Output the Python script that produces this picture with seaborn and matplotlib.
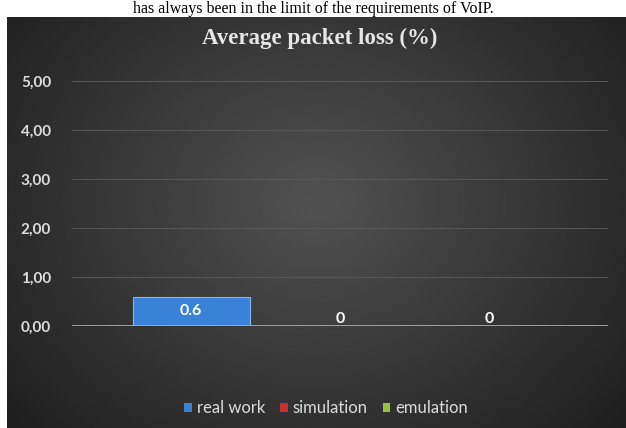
import numpy as np
import pandas as pd
import seaborn as sns
import matplotlib.pyplot as plt
from matplotlib.patches import Patch

# Values
series = ['real work', 'simulation', 'emulation']
loss = [0.6, 0, 0]
yticks = [0, 1, 2, 3, 4, 5]
ylabels = ['0,00', '1,00', '2,00', '3,00', '4,00', '5,00']
colors = ['#3a82d8', '#c9302c', '#9bc13c']

df = pd.DataFrame({'series': series, 'loss': loss})

sns.set_style('dark')
plt.rcParams['font.family'] = ['Lato', 'DejaVu Sans']

W, H = 626, 428
fig = plt.figure(figsize=(W / 100, H / 100), dpi=100)
fig.patch.set_facecolor('white')

# line of the surrounding document
fig.text(0.5, 1 - 13 / H, 'has always been in the limit of the requirements of VoIP.',
         ha='center', va='baseline', fontsize=11.5, color='black',
         family='Liberation Serif')

# dark panel with radial shading
bg = fig.add_axes([7 / W, 0, (W - 7) / W, (H - 17) / H])
yy, xx = np.mgrid[-1:1:200j, -1:1:300j]
r = np.sqrt((xx * 0.95) ** 2 + ((yy + 0.1) * 0.75) ** 2)
bg.imshow(0.32 - 0.16 * np.clip(r, 0, 1.3), cmap='gray', vmin=0, vmax=1,
          aspect='auto', extent=[0, 1, 0, 1])
bg.set_axis_off()

ax = fig.add_axes([72 / W, (H - 326) / H, (608 - 72) / W, 245 / H])
ax.patch.set_alpha(0)
sns.barplot(data=df, x='series', y='loss', hue='series', palette=colors,
            saturation=1, width=0.785, legend=False, ax=ax,
            edgecolor='#86b6f0', linewidth=0.8)

ax.set_xlim(-0.8, 2.8)
ax.set_ylim(0, 5)
ax.set_yticks(yticks)
ax.set_yticklabels(ylabels, color='#dcdcdc', fontsize=11, fontweight='bold')
ax.tick_params(axis='y', length=0, pad=15)
ax.set_xticks([])
ax.set_xlabel('')
ax.set_ylabel('')
ax.grid(axis='y', color='#585858', lw=0.7)
ax.set_axisbelow(True)
for s in ax.spines.values():
    s.set_visible(False)
ax.axhline(0, color='#a9a9a9', lw=2, zorder=3)

for i, v in enumerate(loss):
    ax.text(i, max(v / 2, 0.15), f'{v:g}', ha='center', va='center',
            color='white', fontsize=11.5, fontweight='bold', zorder=4)

fig.text(320 / W, 1 - 38 / H, 'Average packet loss (%)', ha='center', va='center',
         fontsize=16.5, fontweight='bold', color='#e6e6e6', family='Liberation Serif')

handles = [Patch(facecolor=c, edgecolor='none') for c in colors]
leg = fig.legend(handles, series, loc='center', bbox_to_anchor=(326 / W, 1 - 408 / H),
                 ncol=3, frameon=False, fontsize=12, handlelength=0.45,
                 handleheight=0.45, handletextpad=0.3, columnspacing=0.9)
for t in leg.get_texts():
    t.set_color('#dcdcdc')

fig.savefig('out.png', dpi=100)
